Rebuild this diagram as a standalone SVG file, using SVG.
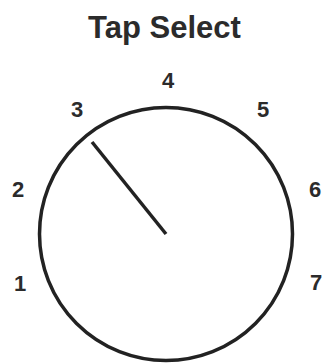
<svg xmlns="http://www.w3.org/2000/svg" width="324" height="363" viewBox="0 0 324 363">
<style>
.lbl{font-family:"Liberation Sans",Arial,sans-serif;font-weight:bold;fill:#2b2b2b;text-anchor:middle}
.t{font-size:31px}
.n{font-size:22px}
.ln{stroke:#222;fill:none;stroke-width:3.5}
</style>
<rect width="324" height="363" fill="#fff"/>
<g id="title"><text class="lbl t" x="164.5" y="38">Tap Select</text></g>
<g id="dial"><circle class="ln" cx="166" cy="234" r="126.5"/></g>
<g id="connectors"><line class="ln" x1="92" y1="142" x2="166" y2="234" stroke-width="3.2"/></g>
<g id="pos1"><text class="lbl n" x="20" y="290.5">1</text></g>
<g id="pos2"><text class="lbl n" x="18" y="196.5">2</text></g>
<g id="pos3"><text class="lbl n" x="77" y="116.5">3</text></g>
<g id="pos4"><text class="lbl n" x="168" y="87.5">4</text></g>
<g id="pos5"><text class="lbl n" x="263" y="116.5">5</text></g>
<g id="pos6"><text class="lbl n" x="315" y="196.5">6</text></g>
<g id="pos7"><text class="lbl n" x="316" y="290">7</text></g>
</svg>
